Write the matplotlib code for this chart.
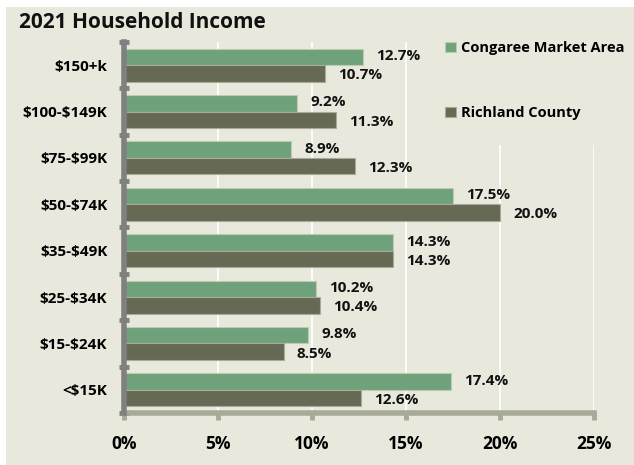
import numpy as np
import matplotlib.pyplot as plt
from matplotlib.patches import Rectangle
from matplotlib.ticker import FixedLocator

plt.rcParams['font.family'] = ['Open Sans', 'DejaVu Sans']
plt.rcParams['font.weight'] = 'bold'
plt.rcParams['text.parse_math'] = False

CATS = ['$150+k', '$100-$149K', '$75-$99K', '$50-$74K',
        '$35-$49K', '$25-$34K', '$15-$24K', '<$15K']
CONGAREE = [12.7, 9.2, 8.9, 17.5, 14.3, 10.2, 9.8, 17.4]
RICHLAND = [10.7, 11.3, 12.3, 20.0, 14.3, 10.4, 8.5, 12.6]
SERIES = ['Congaree Market Area', 'Richland County']
XTICKS = [0, 5, 10, 15, 20, 25]

BG = '#E9E8DD'
GREEN = '#6FA27A'
DARK = '#666A54'

fig = plt.figure(figsize=(6.34, 4.65), dpi=100, facecolor='white')
fig.patches.append(Rectangle((6 / 634, 0), 1, 1 - 7 / 465,
                             transform=fig.transFigure, facecolor=BG,
                             edgecolor='none', zorder=-10))
ax = fig.add_axes([124 / 634, 1 - 413 / 465, 470 / 634, 371 / 465])
ax.set_facecolor(BG)

y = np.arange(len(CATS))
h = 0.356
b1 = ax.barh(y - h / 2, CONGAREE, height=h, color=GREEN,
             edgecolor='#B9CDB5', linewidth=0.8, label=SERIES[0], zorder=3)
b2 = ax.barh(y + h / 2, RICHLAND, height=h, color=DARK,
             edgecolor='#A9AB98', linewidth=0.8, label=SERIES[1], zorder=3)

for yy, v in zip(y, CONGAREE):
    ax.text(v + 0.7, yy - h / 2 - 0.02, f'{v:.1f}%', va='center',
            ha='left', fontsize=11, fontweight='bold', color='#111111',
            zorder=5)
for yy, v in zip(y, RICHLAND):
    ax.text(v + 0.7, yy + h / 2 + 0.04, f'{v:.1f}%', va='center',
            ha='left', fontsize=11, fontweight='bold', color='#111111',
            zorder=5)

ax.set_xlim(0, 25)
ax.set_ylim(len(CATS) - 0.5, -0.5)
ax.set_xticks(XTICKS)
ax.set_xticklabels([f'{t}%' for t in XTICKS], fontsize=12.5,
                   fontweight='bold')
ax.set_yticks(y)
ax.set_yticklabels(CATS, fontsize=11, fontweight='bold')
ax.yaxis.set_minor_locator(FixedLocator(np.arange(-0.5, len(CATS), 1)))
ax.tick_params(axis='y', which='major', length=0, pad=12)
ax.tick_params(axis='y', which='minor', length=7, width=3.5,
               direction='inout', color='#808080')
ax.tick_params(axis='x', which='major', length=5, width=3.5,
               direction='out', color='#A8AA98', pad=11)

ax.grid(axis='x', color='white', linewidth=1.2, zorder=0)
ax.set_axisbelow(True)
for s in ['top', 'right']:
    ax.spines[s].set_visible(False)
ax.spines['left'].set_color('#808080')
ax.spines['left'].set_linewidth(4)
ax.spines['bottom'].set_color('#A8AA98')
ax.spines['bottom'].set_linewidth(4)
ax.spines['left'].set_zorder(4)

fig.text(19 / 634, 1 - 22 / 465, '2021 Household Income', fontsize=15,
         fontweight='bold', va='center', ha='left', color='#111111')

leg = fig.legend(handles=[b1, b2], loc='upper left',
                 bbox_to_anchor=(432 / 634, 1 - 28 / 465),
                 frameon=True, facecolor=BG, edgecolor=BG, framealpha=1,
                 labelspacing=3.5, handlelength=0.75,
                 handleheight=0.75, handletextpad=0.35, borderpad=0.4,
                 prop={'weight': 'bold', 'size': 10.5})
leg.get_frame().set_linewidth(0)
# legend box covers gridlines behind it
fig.patches.append(Rectangle((440 / 634, 1 - 145 / 465), 190 / 634,
                             118 / 465, transform=fig.transFigure,
                             facecolor=BG, edgecolor='none', zorder=1))

fig.savefig('out.png', dpi=100, facecolor=fig.get_facecolor())
plt.close('all')
